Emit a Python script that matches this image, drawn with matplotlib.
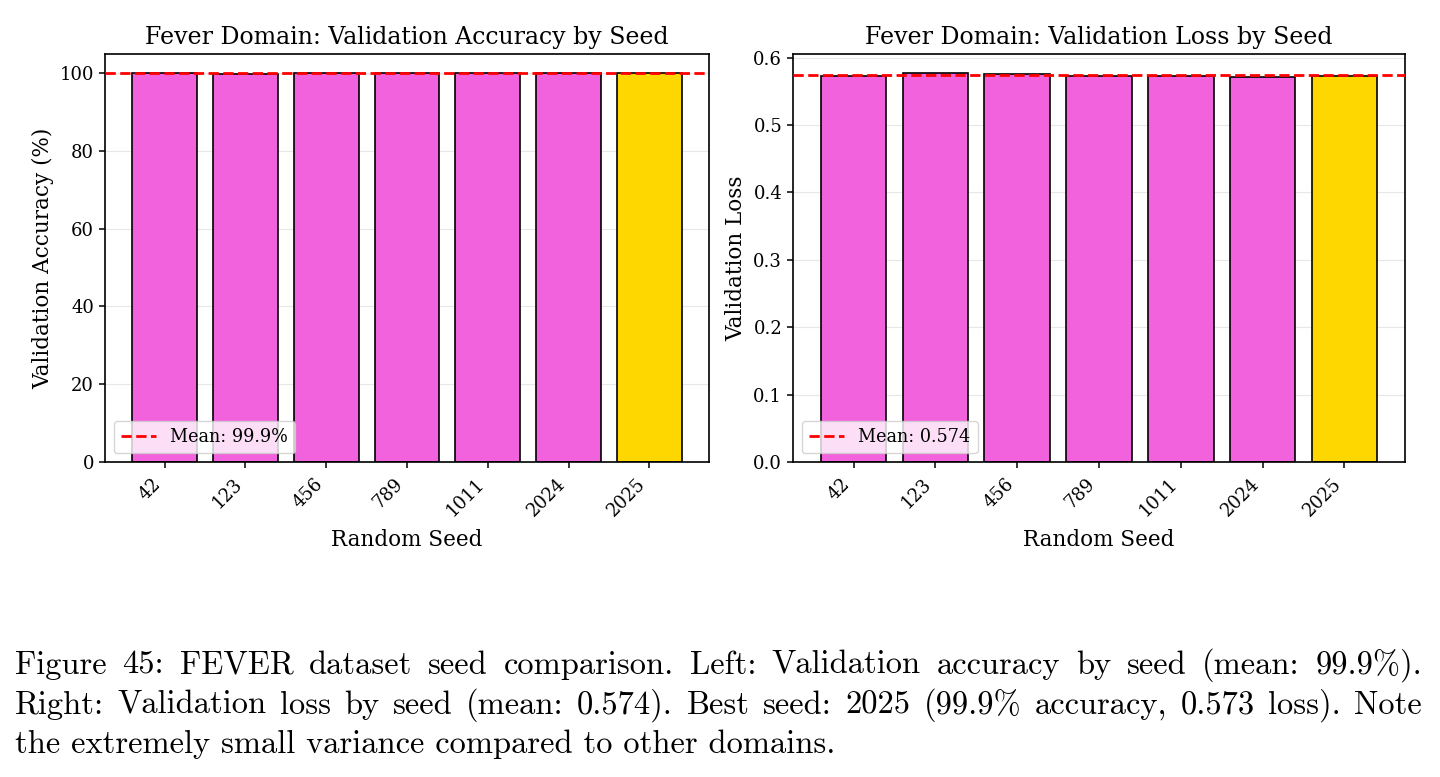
import matplotlib

matplotlib.use("Agg")

import matplotlib.pyplot as plt

SEEDS = ["42", "123", "456", "789", "1011", "2024", "2025"]
VAL_ACCURACY = [99.90, 99.88, 99.90, 99.90, 99.90, 99.90, 99.91]
VAL_LOSS = [0.5731, 0.5765, 0.5758, 0.5731, 0.5726, 0.5711, 0.5731]
BEST_SEED = "2025"

CAPTION_LINES = [
    "Figure 45: FEVER dataset seed comparison. Left: Validation accuracy by seed (mean: 99.9%).",
    "Right: Validation loss by seed (mean: 0.574). Best seed: 2025 (99.9% accuracy, 0.573 loss). Note",
    "the extremely small variance compared to other domains.",
]

BAR_COLOR = "#F262DC"
BEST_COLOR = "#FFD700"

plt.rcParams["font.family"] = "DejaVu Serif"


def seed_bars(ax, values, title, ylabel, mean_label):
    colors = [BEST_COLOR if seed == BEST_SEED else BAR_COLOR for seed in SEEDS]
    x = list(range(len(SEEDS)))
    ax.bar(x, values, width=0.8, color=colors, edgecolor="black", linewidth=1.2, zorder=2)
    mean = sum(values) / len(values)
    ax.axhline(mean, color="red", linestyle="--", linewidth=2, label=mean_label(mean), zorder=3)
    ax.set_xticks(x)
    ax.set_xticklabels(SEEDS, rotation=45, ha="right")
    ax.set_title(title, fontsize=17, pad=7)
    ax.set_xlabel("Random Seed", fontsize=15.5, labelpad=6)
    ax.set_ylabel(ylabel, fontsize=15.5)
    ax.tick_params(labelsize=13, width=1.1, length=4.3)
    ax.tick_params(axis="x", pad=5)
    ax.grid(axis="y", alpha=0.3, zorder=0)
    ax.set_axisbelow(True)
    for spine in ax.spines.values():
        spine.set_linewidth(1.2)
    ax.legend(loc="lower left", fontsize=12.7, framealpha=0.8)


def justified_line(fig, renderer, text, x0, x1, y, **kw):
    words = text.split(" ")
    items = [fig.text(0, y, w, **kw) for w in words]
    widths = [t.get_window_extent(renderer).width for t in items]
    fig_w = fig.bbox.width
    gap = ((x1 - x0) * fig_w - sum(widths)) / (len(words) - 1)
    pos = x0 * fig_w
    for t, w in zip(items, widths):
        t.set_x(pos / fig_w)
        pos += w + gap


fig = plt.figure(figsize=(14.4, 7.77), dpi=100)
ax_acc = fig.add_axes([0.0729, 0.4054, 0.4195, 0.5251])
ax_loss = fig.add_axes([0.5507, 0.4054, 0.4250, 0.5251])

seed_bars(ax_acc, VAL_ACCURACY, "Fever Domain: Validation Accuracy by Seed",
          "Validation Accuracy (%)", lambda m: f"Mean: {m:.1f}%")
seed_bars(ax_loss, VAL_LOSS, "Fever Domain: Validation Loss by Seed",
          "Validation Loss", lambda m: f"Mean: {m:.3f}")

renderer = fig.canvas.get_renderer()
cap_kw = dict(family="cmr10", fontsize=23.4, va="baseline", ha="left")
baselines = [1 - 674 / 777, 1 - 714 / 777, 1 - 753 / 777]
x_left, x_right = 15 / 1440, 1422 / 1440
for i, (line, y) in enumerate(zip(CAPTION_LINES, baselines)):
    if i < len(CAPTION_LINES) - 1:
        justified_line(fig, renderer, line, x_left, x_right, y, **cap_kw)
    else:
        fig.text(x_left, y, line, **cap_kw)

fig.savefig("out.png", dpi=100)
